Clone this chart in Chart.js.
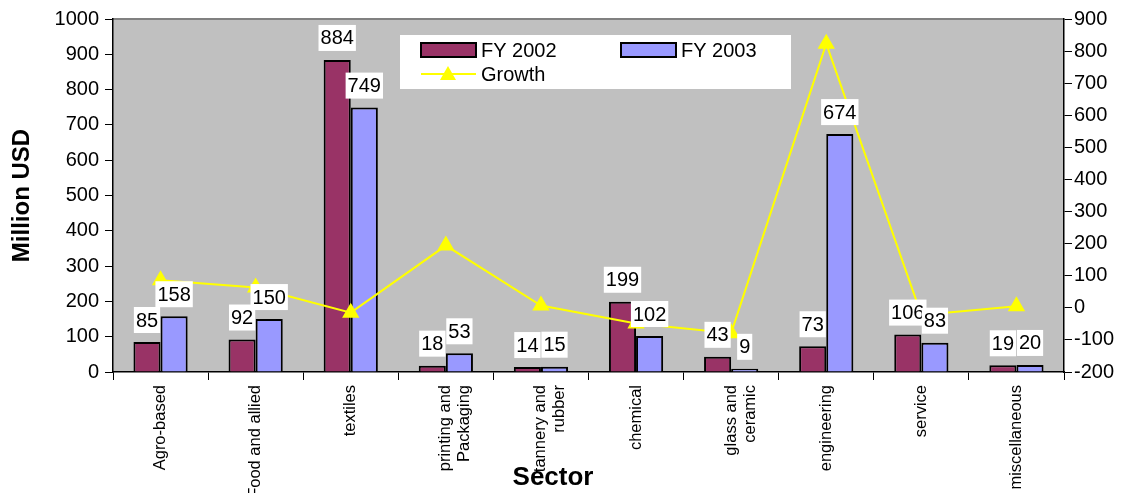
<!DOCTYPE html>
<html>
<head>
    <title>Exports by Sector</title>
    <script src="https://cdn.jsdelivr.net/npm/chart.js"></script>
    <style>
        body { margin: 0; background: #fff; }
        .wrap { width: 1129px; height: 493px; position: relative; }
    </style>
</head>
<body>
<div class="wrap"><canvas id="chart"></canvas></div>

<script>
    const sectors = [
        'Agro-based', 'Food and allied', 'textiles', ['printing and', 'Packaging'],
        ['tannery and', 'rubber'], 'chemical', ['glass and', 'ceramic'],
        'engineering', 'service', 'miscellaneous'
    ];
    const fy2002 = [85, 92, 884, 18, 14, 199, 43, 73, 106, 19];
    const fy2003 = [158, 150, 749, 53, 15, 102, 9, 674, 83, 20];
    const growth = [86, 63, -15, 194, 7, -49, -79, 823, -22, 5];
    const leftRange = [0, 1000];
    const rightRange = [-200, 900];

    const FONT = "'Liberation Sans', Arial, sans-serif";

    // grey plot area with the grey top edge
    const plotBg = {
        id: 'plotBg',
        beforeDraw(chart) {
            const { ctx, chartArea: a } = chart;
            ctx.save();
            ctx.fillStyle = '#C0C0C0';
            ctx.fillRect(a.left, a.top, a.right - a.left, a.bottom - a.top);
            ctx.strokeStyle = '#808080';
            ctx.lineWidth = 2;
            ctx.beginPath();
            ctx.moveTo(a.left, a.top);
            ctx.lineTo(a.right, a.top);
            ctx.stroke();
            ctx.restore();
        }
    };

    // white boxed value labels above the bars
    const barLabels = {
        id: 'barLabels',
        afterDatasetsDraw(chart) {
            const ctx = chart.ctx;
            ctx.save();
            ctx.font = '20px ' + FONT;
            ctx.textAlign = 'center';
            ctx.textBaseline = 'middle';
            chart.data.datasets.forEach((ds, i) => {
                if (ds.type === 'line') return;
                chart.getDatasetMeta(i).data.forEach((bar, j) => {
                    const txt = String(ds.data[j]);
                    const w = ctx.measureText(txt).width + 4;
                    const h = 26;
                    const bottom = bar.y - 9;
                    ctx.fillStyle = '#fff';
                    ctx.fillRect(bar.x - w / 2, bottom - h, w, h);
                    ctx.fillStyle = '#000';
                    ctx.fillText(txt, bar.x, bottom - h / 2 + 1);
                });
            });
            ctx.restore();
        }
    };

    // legend box inside the plot, and the "Sector" title
    const legendBox = {
        id: 'legendBox',
        afterDraw(chart) {
            const ctx = chart.ctx;
            const ds = chart.data.datasets;
            ctx.save();
            ctx.fillStyle = '#fff';
            ctx.fillRect(400, 35, 391, 54);

            ctx.font = '20px ' + FONT;
            ctx.textBaseline = 'middle';
            ctx.textAlign = 'left';

            [[ds[0], 421], [ds[1], 621]].forEach(([d, x]) => {
                ctx.fillStyle = d.backgroundColor;
                ctx.fillRect(x, 43, 55, 14);
                ctx.strokeStyle = '#000';
                ctx.lineWidth = 2;
                ctx.strokeRect(x, 43, 55, 14);
                ctx.fillStyle = '#000';
                ctx.fillText(d.label, x + 60, 51);
            });

            const g = ds[2];
            ctx.strokeStyle = g.borderColor;
            ctx.lineWidth = 2;
            ctx.beginPath();
            ctx.moveTo(421, 74);
            ctx.lineTo(476, 74);
            ctx.stroke();
            ctx.fillStyle = g.borderColor;
            ctx.beginPath();
            ctx.moveTo(448, 66);
            ctx.lineTo(456, 80);
            ctx.lineTo(440, 80);
            ctx.closePath();
            ctx.fill();
            ctx.fillStyle = '#000';
            ctx.fillText(g.label, 481, 75);

            ctx.font = 'bold 26px ' + FONT;
            ctx.textAlign = 'center';
            ctx.fillText('Sector', chart.chartArea.left + 440, 478);
            ctx.restore();
        }
    };

    const plain = v => String(v);

    new Chart(document.getElementById('chart'), {
        data: {
            labels: sectors,
            datasets: [
                {
                    type: 'bar',
                    label: 'FY 2002',
                    data: fy2002,
                    backgroundColor: '#993366',
                    borderColor: '#000',
                    borderWidth: 2,
                    yAxisID: 'y',
                    order: 1
                },
                {
                    type: 'bar',
                    label: 'FY 2003',
                    data: fy2003,
                    backgroundColor: '#9999FF',
                    borderColor: '#000',
                    borderWidth: 2,
                    yAxisID: 'y',
                    order: 1
                },
                {
                    type: 'line',
                    label: 'Growth',
                    data: growth,
                    borderColor: '#FFFF00',
                    backgroundColor: '#FFFF00',
                    borderWidth: 2,
                    pointStyle: 'triangle',
                    pointRadius: 8,
                    pointBackgroundColor: '#FFFF00',
                    pointBorderColor: '#FFFF00',
                    tension: 0,
                    yAxisID: 'y1',
                    order: 0
                }
            ]
        },
        options: {
            responsive: true,
            maintainAspectRatio: false,
            animation: false,
            layout: { padding: { top: 19, left: 0, right: 0, bottom: 0 } },
            datasets: {
                bar: { categoryPercentage: 0.57, barPercentage: 1 }
            },
            plugins: {
                legend: { display: false },
                tooltip: { enabled: false }
            },
            scales: {
                x: {
                    offset: true,
                    grid: { offset: true, drawOnChartArea: false, tickLength: 8, color: '#000' },
                    border: { color: '#000', width: 1.5 },
                    ticks: {
                        minRotation: 90,
                        maxRotation: 90,
                        autoSkip: false,
                        color: '#000',
                        padding: 5,
                        font: { family: FONT, size: 16.5, lineHeight: 1.15 }
                    },
                    afterFit: s => { s.height = 121; }
                },
                y: {
                    position: 'left',
                    min: leftRange[0],
                    max: leftRange[1],
                    grid: { drawOnChartArea: false, tickLength: 8, color: '#000' },
                    border: { color: '#000', width: 1.5 },
                    ticks: { stepSize: 100, color: '#000', padding: 6, callback: plain, font: { family: FONT, size: 20 } },
                    title: {
                        display: true,
                        text: 'Million USD',
                        color: '#000',
                        padding: { top: 8, bottom: 0 },
                        font: { family: FONT, size: 24, weight: 'bold' }
                    },
                    afterFit: s => { s.width = 113; }
                },
                y1: {
                    position: 'right',
                    min: rightRange[0],
                    max: rightRange[1],
                    grid: { drawOnChartArea: false, tickLength: 8, color: '#000' },
                    border: { color: '#000', width: 1.5 },
                    ticks: { stepSize: 100, color: '#000', padding: 2, callback: plain, font: { family: FONT, size: 20 } },
                    afterFit: s => { s.width = 65; }
                }
            }
        },
        plugins: [plotBg, barLabels, legendBox]
    });
</script>

</body>
</html>
